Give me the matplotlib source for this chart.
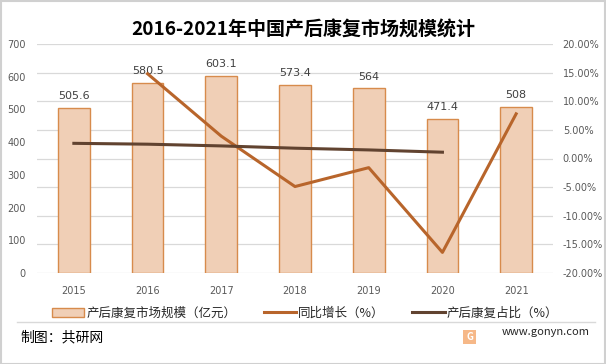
import matplotlib
matplotlib.use("Agg")
import matplotlib.pyplot as plt
from matplotlib.patches import Patch, Rectangle
from matplotlib.lines import Line2D

plt.rcParams['font.family'] = ['Noto Sans CJK SC', 'DejaVu Sans']

years = ['2015', '2016', '2017', '2018', '2019', '2020', '2021']
market = [505.6, 580.5, 603.1, 573.4, 564, 471.4, 508]
growth = [None, 14.8, 3.9, -4.9, -1.6, -16.4, 7.8]
share = [2.65, 2.5, 2.2, 1.8, 1.5, 1.1, None]
left_ticks = [0, 100, 200, 300, 400, 500, 600, 700]
right_ticks = [-20, -15, -10, -5, 0, 5, 10, 15, 20]

bar_fill = '#f0cfb6'
bar_edge = '#d78b4c'
growth_c = '#b8652b'
share_c = '#614330'
tick_c = '#595959'

fig = plt.figure(figsize=(6.06, 3.64), dpi=100)
fig.patch.set_facecolor('white')
ax = fig.add_axes([37/606, 1-273/364, (553-37)/606, (273-44)/364])
ax2 = ax.twinx()

x = list(range(len(years)))
for t in right_ticks:
    ax.axhline((t + 20) / 40 * 700, color='#d9d9d9', lw=0.9, zorder=0)
ax.bar(x, market, width=0.43, color=bar_fill, edgecolor=bar_edge, linewidth=1.0, zorder=2)
for xi, v in zip(x, market):
    ax.annotate(f'{v:g}', (xi, v), xytext=(0, 5), textcoords='offset points',
                ha='center', va='bottom', fontsize=8, color='#404040',
                family=['DejaVu Sans'])

gx = [xi for xi, g in zip(x, growth) if g is not None]
gy = [g for g in growth if g is not None]
sx = [xi for xi, s in zip(x, share) if s is not None]
sy = [s for s in share if s is not None]
ax2.plot(gx, gy, color=growth_c, lw=2.2, zorder=3)
ax2.plot(sx, sy, color=share_c, lw=2.2, zorder=3)

ax.set_xlim(-0.5, len(years)-0.5)
ax.set_ylim(0, 700)
ax2.set_ylim(-20, 20)
ax.set_yticks(left_ticks)
ax.set_yticklabels([str(t) for t in left_ticks])
ax2.set_yticks(right_ticks)
ax2.set_yticklabels([f'{t:.2f}%' for t in right_ticks])
ax.set_xticks(x)
ax.set_xticklabels(years)

ax.set_zorder(1)
ax2.set_zorder(2)
ax2.patch.set_visible(False)
ax.patch.set_visible(False)

for a in (ax, ax2):
    for s in a.spines.values():
        s.set_visible(False)
    a.tick_params(length=0, labelsize=7, colors=tick_c)
ax.tick_params(axis='y', pad=8)
ax2.tick_params(axis='y', pad=7)
ax.tick_params(axis='x', pad=9)
for lab in ax.get_xticklabels() + ax.get_yticklabels() + ax2.get_yticklabels():
    lab.set_family(['DejaVu Sans'])

fig.text(0.5, 1-30/364, '2016-2021年中国产后康复市场规模统计', ha='center', va='center',
         fontsize=13.7, fontweight='bold', color='#000000')

handles = [Patch(facecolor=bar_fill, edgecolor=bar_edge, lw=1.0),
           Line2D([], [], color=growth_c, lw=2.2),
           Line2D([], [], color=share_c, lw=2.2)]
labels = ['产后康复市场规模（亿元）', '同比增长（%）', '产后康复占比（%）']
fig.legend(handles, labels, loc='center', bbox_to_anchor=(0.503, 1-313/364), ncol=3,
           frameon=False, fontsize=9, handlelength=2.6, handletextpad=0.15,
           columnspacing=2.2, labelcolor='#262626')

fig.add_artist(Line2D([17/606, 595/606], [1-322/364, 1-322/364], color='#d9d9d9', lw=1))
fig.text(20/606, 1-337/364, '制图：共研网', ha='left', va='center', fontsize=10, color='#000000')
fig.text(590/606, 1-332/364, 'www.gonyn.com', ha='right', va='center', fontsize=8, color='#262626')
fig.add_artist(Rectangle((463/606, 1-344/364), 13/606, 14/364, facecolor='#f4a66a',
                         edgecolor='none', alpha=0.8))
fig.text(469.5/606, 1-337/364, 'G', ha='center', va='center', fontsize=7, color='white', fontweight='bold')
fig.add_artist(Rectangle((0.5/606, 0.5/364), 604.5/606, 362.5/364, facecolor='none',
                         edgecolor='#d0d0d0', lw=1.5))

fig.savefig('out.png', dpi=100)
